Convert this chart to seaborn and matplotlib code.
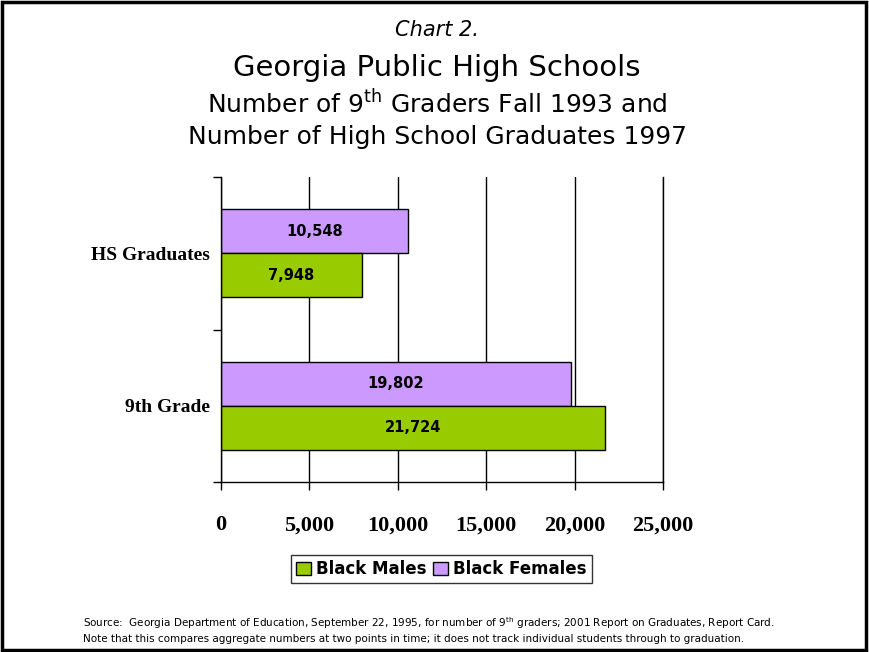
import pandas as pd
import matplotlib
matplotlib.use('Agg')
import matplotlib.pyplot as plt
from matplotlib.patches import Rectangle, Patch
import seaborn as sns

# data
groups = ['HS Graduates', '9th Grade']
males = [7948, 21724]
females = [10548, 19802]
series = ['Black Females', 'Black Males']
xticks = [0, 5000, 10000, 15000, 20000, 25000]
xtick_labels = ['0', '5,000', '10,000', '15,000', '20,000', '25,000']

df = pd.DataFrame({
    'group': groups * 2,
    'series': ['Black Males'] * 2 + ['Black Females'] * 2,
    'value': males + females,
})

green = '#99CC00'
purple = '#CC99FF'

sns.set_style('white')
plt.rcParams['font.family'] = ['DejaVu Sans']
plt.rcParams['text.color'] = 'black'
plt.rcParams['xtick.color'] = 'black'
plt.rcParams['ytick.color'] = 'black'

fig = plt.figure(figsize=(8.69, 6.52), dpi=100)
ax = fig.add_axes([0.2543, 0.2607, 0.5087, 0.4678])

sns.barplot(data=df, x='value', y='group', hue='series', order=groups,
            hue_order=series, palette={'Black Males': green, 'Black Females': purple},
            saturation=1, orient='h', width=0.58, edgecolor='black', linewidth=1,
            legend=False, ax=ax, zorder=3)

for c in ax.containers:
    ax.bar_label(c, labels=['{:,}'.format(int(v)) for v in c.datavalues],
                 label_type='center', fontweight='bold', fontsize=10.5, color='black')

ax.set_xlim(0, 25000)
ax.set_ylim(1.5, -0.5)
ax.set_xticks(xticks)
ax.set_xticklabels(xtick_labels, family='Liberation Serif', fontweight='bold', fontsize=16)
ax.set_yticks([0, 1])
ax.set_yticklabels(groups, family='Liberation Serif', fontweight='bold', fontsize=14)
ax.set_yticks([-0.5, 0.5, 1.5], minor=True)
ax.tick_params(axis='y', which='major', left=True, length=0, pad=8)
ax.tick_params(axis='y', which='minor', left=True, length=6, width=1, color='black',
               direction='out')
ax.tick_params(axis='x', bottom=True, length=6, width=1, color='black', direction='out', pad=18)
ax.set_xlabel('')
ax.set_ylabel('')
ax.grid(axis='x', color='black', linewidth=1, zorder=0)
ax.set_axisbelow(True)
ax.spines['top'].set_visible(False)
for s in ['left', 'bottom', 'right']:
    ax.spines[s].set_visible(True)
    ax.spines[s].set_color('black')
    ax.spines[s].set_linewidth(1)
    ax.spines[s].set_zorder(4)

# legend: males first
handles = [Patch(facecolor=green, edgecolor='black'), Patch(facecolor=purple, edgecolor='black')]
leg = fig.legend(handles, ['Black Males', 'Black Females'], loc='center',
                 bbox_to_anchor=(0.508, 0.127), ncol=2, frameon=True, fancybox=False,
                 prop={'weight': 'bold', 'size': 12}, handlelength=0.9, handleheight=0.9,
                 handletextpad=0.3, columnspacing=0.4, borderpad=0.3, borderaxespad=0)
leg.get_frame().set_edgecolor('black')
leg.get_frame().set_linewidth(1)

# titles
fig.text(0.503, 0.954, 'Chart 2.', ha='center', va='center', fontsize=15, style='italic')
fig.text(0.503, 0.896, 'Georgia Public High Schools', ha='center', va='center', fontsize=21)
fig.text(0.503, 0.840, r'Number of 9$^{\mathrm{th}}$ Graders Fall 1993 and', ha='center',
         va='center', fontsize=18)
fig.text(0.503, 0.790, 'Number of High School Graduates 1997', ha='center', va='center',
         fontsize=18)

# source notes
fig.text(0.096, 0.045, r'Source:  Georgia Department of Education, September 22, 1995, for number of 9$^{\mathrm{th}}$ graders; 2001 Report on Graduates, Report Card.',
         ha='left', va='center', fontsize=7.5)
fig.text(0.096, 0.020, 'Note that this compares aggregate numbers at two points in time; it does not track individual students through to graduation.',
         ha='left', va='center', fontsize=7.5)

# border round the slide
fig.add_artist(Rectangle((0.002, 0.003), 0.995, 0.994, transform=fig.transFigure,
                         fill=False, edgecolor='black', linewidth=2.5))

fig.savefig('out.png', dpi=100)
